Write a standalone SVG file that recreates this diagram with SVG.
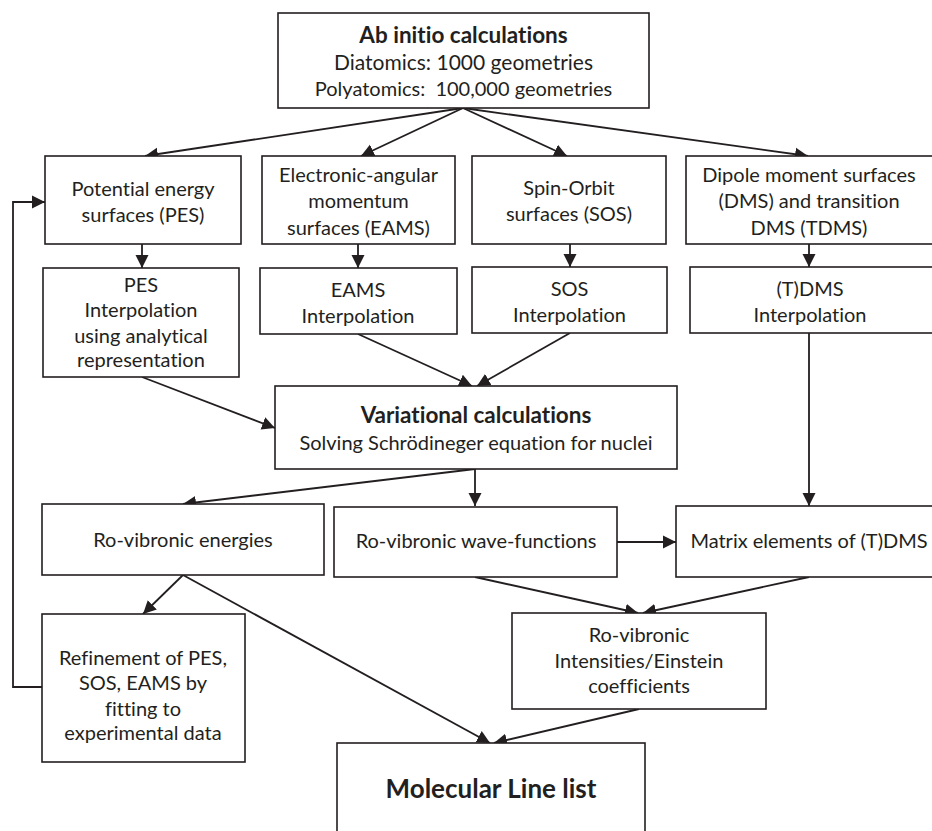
<svg xmlns="http://www.w3.org/2000/svg" width="932" height="831" viewBox="0 0 932 831">
<style>
  .box { fill: #ffffff; stroke: #231f20; stroke-width: 1.6; }
  .t { font-family: Lato, "Open Sans", sans-serif; font-size: 20px; fill: #231f20; text-anchor: middle; font-variant-ligatures: none; font-feature-settings: "liga" 0; }
  .b { font-weight: bold; font-size: 22.5px; }
  .big { font-weight: bold; font-size: 26px; }
  .c { fill: none; stroke: #231f20; stroke-width: 1.8; }
  .ca { marker-end: url(#ah); }
</style>
<defs>
  <marker id="ah" markerUnits="userSpaceOnUse" markerWidth="14" markerHeight="14" refX="13" refY="7" orient="auto">
    <path d="M0,0.5 L13,7 L0,13.5 z" fill="#231f20"/>
  </marker>
</defs>
<rect width="932" height="831" fill="#ffffff"/>

<g id="connectors">
  <line class="c ca" x1="463" y1="108" x2="145" y2="156"/>
  <line class="c ca" x1="463" y1="108" x2="361" y2="156"/>
  <line class="c ca" x1="463" y1="108" x2="567" y2="156"/>
  <line class="c ca" x1="463" y1="108" x2="808" y2="156"/>
  <line class="c ca" x1="142" y1="244" x2="142" y2="268"/>
  <line class="c ca" x1="358" y1="244" x2="358" y2="268"/>
  <line class="c ca" x1="570" y1="244" x2="570" y2="267"/>
  <line class="c ca" x1="809" y1="244" x2="809" y2="267"/>
  <line class="c ca" x1="142" y1="377" x2="275" y2="428"/>
  <line class="c ca" x1="358" y1="334" x2="472" y2="386"/>
  <line class="c ca" x1="570" y1="333" x2="477" y2="386"/>
  <line class="c ca" x1="809" y1="333" x2="809" y2="506"/>
  <line class="c ca" x1="475" y1="469" x2="183" y2="504"/>
  <line class="c ca" x1="475" y1="469" x2="475" y2="506"/>
  <line class="c ca" x1="617" y1="542" x2="676" y2="542"/>
  <line class="c ca" x1="475" y1="577" x2="638" y2="613"/>
  <line class="c ca" x1="809" y1="577" x2="643" y2="613"/>
  <line class="c ca" x1="183" y1="575" x2="143" y2="614"/>
  <line class="c ca" x1="183" y1="575" x2="490" y2="743"/>
  <line class="c ca" x1="639" y1="709" x2="494" y2="743"/>
  <polyline class="c ca" points="42,687 13,687 13,202 45,202"/>
</g>

<g id="abinitio">
  <rect class="box" x="278" y="13" width="371" height="95"/>
  <text class="t b" x="463.5" y="43">Ab initio calculations</text>
  <text class="t" x="463.5" y="70" style="font-size:21px">Diatomics: 1000 geometries</text>
  <text class="t" x="463.5" y="96" xml:space="preserve">Polyatomics:  100,000 geometries</text>
</g>

<g id="pes">
  <rect class="box" x="45" y="156" width="196" height="88"/>
  <text class="t" x="143" y="196">Potential energy</text>
  <text class="t" x="143" y="222">surfaces (PES)</text>
</g>

<g id="eams">
  <rect class="box" x="262" y="156" width="193" height="88"/>
  <text class="t" x="358.5" y="182">Electronic-angular</text>
  <text class="t" x="358.5" y="208">momentum</text>
  <text class="t" x="358.5" y="235">surfaces (EAMS)</text>
</g>

<g id="sos">
  <rect class="box" x="472" y="156" width="194" height="88"/>
  <text class="t" x="569" y="195">Spin-Orbit</text>
  <text class="t" x="569" y="221">surfaces (SOS)</text>
</g>

<g id="dms">
  <rect class="box" x="686" y="156" width="250" height="88"/>
  <text class="t" x="809" y="182">Dipole moment surfaces</text>
  <text class="t" x="809" y="208">(DMS) and transition</text>
  <text class="t" x="809" y="235">DMS (TDMS)</text>
</g>

<g id="pes-interp">
  <rect class="box" x="43" y="268" width="196" height="109"/>
  <text class="t" x="141" y="292">PES</text>
  <text class="t" x="141" y="317">Interpolation</text>
  <text class="t" x="141" y="343">using analytical</text>
  <text class="t" x="141" y="367">representation</text>
</g>

<g id="eams-interp">
  <rect class="box" x="260" y="268" width="197" height="66"/>
  <text class="t" x="358" y="297">EAMS</text>
  <text class="t" x="358" y="323">Interpolation</text>
</g>

<g id="sos-interp">
  <rect class="box" x="472" y="267" width="195" height="66"/>
  <text class="t" x="569.5" y="296">SOS</text>
  <text class="t" x="569.5" y="322">Interpolation</text>
</g>

<g id="tdms-interp">
  <rect class="box" x="690" y="267" width="250" height="66"/>
  <text class="t" x="810" y="296">(T)DMS</text>
  <text class="t" x="810" y="322">Interpolation</text>
</g>

<g id="variational">
  <rect class="box" x="275" y="386" width="402" height="83"/>
  <text class="t b" x="476" y="423">Variational calculations</text>
  <text class="t" x="476" y="450">Solving Schrödineger equation for nuclei</text>
</g>

<g id="energies">
  <rect class="box" x="42" y="504" width="282" height="71"/>
  <text class="t" x="183" y="547">Ro-vibronic energies</text>
</g>

<g id="wavefunctions">
  <rect class="box" x="334" y="507" width="283" height="70"/>
  <text class="t" x="476" y="548">Ro-vibronic wave-functions</text>
</g>

<g id="matrix">
  <rect class="box" x="676" y="506" width="270" height="71"/>
  <text class="t" x="809" y="548">Matrix elements of (T)DMS</text>
</g>

<g id="intensities">
  <rect class="box" x="512" y="613" width="254" height="96"/>
  <text class="t" x="639" y="642">Ro-vibronic</text>
  <text class="t" x="639" y="668">Intensities/Einstein</text>
  <text class="t" x="639" y="693">coefficients</text>
</g>

<g id="refinement">
  <rect class="box" x="42" y="614" width="203" height="148"/>
  <text class="t" x="143" y="665">Refinement of PES,</text>
  <text class="t" x="143" y="690">SOS, EAMS by</text>
  <text class="t" x="143" y="716">fitting to</text>
  <text class="t" x="143" y="740">experimental data</text>
</g>

<g id="linelist">
  <rect class="box" x="337" y="743" width="308" height="100"/>
  <text class="t big" x="491" y="798">Molecular Line list</text>
</g>
</svg>
